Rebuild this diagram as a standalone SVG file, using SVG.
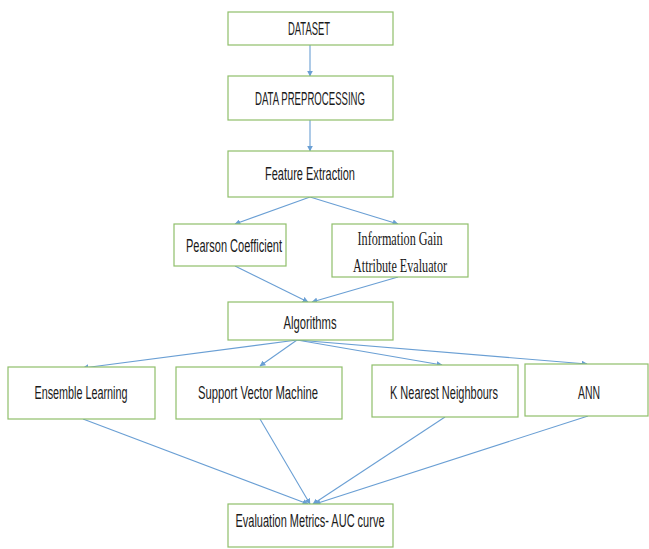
<svg xmlns="http://www.w3.org/2000/svg" width="649" height="549" viewBox="0 0 649 549">
<style>
.box{fill:#fff;stroke:#8fbf6a;stroke-width:1.2}
.t{font-family:"Liberation Sans",Arial,sans-serif;font-size:17.5px;fill:#1a1a1a;text-anchor:middle}
.s{font-family:"Liberation Serif","Times New Roman",serif;font-size:19px;fill:#1a1a1a;text-anchor:middle}
.c{stroke:#6a9fd4;stroke-width:1.1;fill:none;marker-end:url(#ah)}
</style>
<defs>
<marker id="ah" viewBox="0 0 10 10" refX="9" refY="5" markerWidth="6" markerHeight="6" markerUnits="userSpaceOnUse" orient="auto">
<path d="M0,0 L10,5 L0,10 z" fill="#6a9fd4"/>
</marker>
</defs>
<rect width="649" height="549" fill="#fff"/>
<g id="connectors">
<line class="c" x1="310" y1="45" x2="310" y2="76"/>
<line class="c" x1="310" y1="120" x2="310" y2="151"/>
<line class="c" x1="310" y1="197" x2="235" y2="224"/>
<line class="c" x1="310" y1="197" x2="398" y2="224"/>
<line class="c" x1="235" y1="266" x2="308" y2="302"/>
<line class="c" x1="398" y1="277" x2="312" y2="302"/>
<line class="c" x1="297" y1="340" x2="83" y2="368"/>
<line class="c" x1="297" y1="340" x2="260" y2="366"/>
<line class="c" x1="297" y1="340" x2="442" y2="365"/>
<line class="c" x1="297" y1="340" x2="587" y2="364"/>
<line class="c" x1="83" y1="419" x2="308" y2="504"/>
<line class="c" x1="260" y1="419" x2="310" y2="504"/>
<line class="c" x1="445" y1="417" x2="313" y2="504"/>
<line class="c" x1="588" y1="416" x2="315" y2="504"/>
</g>
<g id="dataset"><rect class="box" x="228" y="12" width="165" height="33"/><text class="t" x="309" y="35" textLength="42" lengthAdjust="spacingAndGlyphs">DATASET</text></g>
<g id="preprocessing"><rect class="box" x="228" y="76" width="165" height="44"/><text class="t" x="310" y="105" textLength="110" lengthAdjust="spacingAndGlyphs">DATA PREPROCESSING</text></g>
<g id="feature"><rect class="box" x="228" y="151" width="165" height="46"/><text class="t" x="310" y="180" textLength="90" lengthAdjust="spacingAndGlyphs">Feature Extraction</text></g>
<g id="pearson"><rect class="box" x="174" y="224" width="112" height="42"/><text class="t" x="234" y="252" textLength="96" lengthAdjust="spacingAndGlyphs">Pearson Coefficient</text></g>
<g id="infogain"><rect class="box" x="332" y="224" width="136" height="53"/><text class="s" x="400" y="245" textLength="85" lengthAdjust="spacingAndGlyphs">Information Gain</text><text class="s" x="400" y="272" textLength="94" lengthAdjust="spacingAndGlyphs">Attribute Evaluator</text></g>
<g id="algorithms"><rect class="box" x="228" y="302" width="165" height="38"/><text class="t" x="310" y="329" textLength="53" lengthAdjust="spacingAndGlyphs">Algorithms</text></g>
<g id="ensemble"><rect class="box" x="8" y="367" width="147" height="52"/><text class="t" x="81" y="399" textLength="93" lengthAdjust="spacingAndGlyphs">Ensemble Learning</text></g>
<g id="svm"><rect class="box" x="176" y="367" width="166" height="52"/><text class="t" x="258" y="399" textLength="120" lengthAdjust="spacingAndGlyphs">Support Vector Machine</text></g>
<g id="knn"><rect class="box" x="372" y="365" width="146" height="52"/><text class="t" x="444" y="399" textLength="108" lengthAdjust="spacingAndGlyphs">K Nearest Neighbours</text></g>
<g id="ann"><rect class="box" x="525" y="364" width="123" height="52"/><text class="t" x="589" y="399" textLength="22" lengthAdjust="spacingAndGlyphs">ANN</text></g>
<g id="evaluation"><rect class="box" x="228" y="504" width="165" height="43"/><text class="t" x="310" y="527" textLength="149" lengthAdjust="spacingAndGlyphs">Evaluation Metrics- AUC curve</text></g>
</svg>
